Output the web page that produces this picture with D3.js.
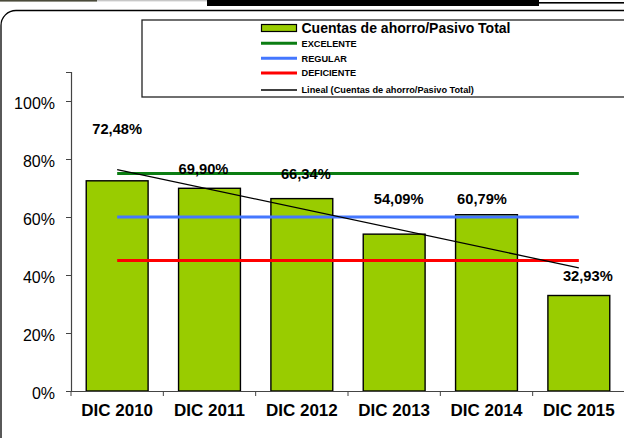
<!DOCTYPE html>
<html>
<head>
<meta charset="utf-8">
<script src="https://cdn.jsdelivr.net/npm/d3@7"></script>
<style>
  body { margin: 0; background: #fff; }
  svg { display: block; font-family: "Liberation Sans", Arial, sans-serif; }
</style>
</head>
<body>
<script>
// data
var categories = ["DIC 2010", "DIC 2011", "DIC 2012", "DIC 2013", "DIC 2014", "DIC 2015"];
var values = [72.48, 69.90, 66.34, 54.09, 60.79, 32.93];
var excelente = 75, regular = 60, deficiente = 45;
var yTicks = [0, 20, 40, 60, 80, 100];
var seriesName = "Cuentas de ahorro/Pasivo Total";
var legendNames = ["EXCELENTE", "REGULAR", "DEFICIENTE", "Lineal (Cuentas de ahorro/Pasivo Total)"];

// label nudges (layout only), as in the original sheet
var labelDx = [0, -6, 4, 4.5, -4.5, 9];
var labelDy = [47, 14.3, 19.6, 30, 10.7, 14.5];

var width = 624, height = 438;
var colors = { bar: "#99cc00", green: "#0b7d12", blue: "#4477ff", red: "#ff0000" };

var svg = d3.select("body").append("svg")
    .attr("width", width)
    .attr("height", height);

// top strip bits seen in the capture
svg.append("rect").attr("x", 0).attr("y", 0).attr("width", 97).attr("height", 1.6).attr("fill", "#4b4b3a");
svg.append("rect").attr("x", 97).attr("y", 0).attr("width", 132).attr("height", 1.4).attr("fill", "#c8c8c8");
svg.append("rect").attr("x", 207).attr("y", 0).attr("width", 332).attr("height", 6).attr("fill", "#000");
svg.append("rect").attr("x", 539).attr("y", 2).attr("width", 85).attr("height", 1.6).attr("fill", "#000");

// outer rounded frame
svg.append("rect")
    .attr("x", 1).attr("y", 10.5)
    .attr("width", 640).attr("height", 460)
    .attr("rx", 15).attr("ry", 15)
    .attr("fill", "none").attr("stroke", "#000").attr("stroke-width", 1.3);

var x = d3.scaleBand()
    .domain(categories)
    .range([71, 625])
    .paddingInner(0.33)
    .paddingOuter(0.165);

var y = d3.scaleLinear()
    .domain([0, 110])
    .range([391, 72]);

var cx = function (i) { return x(categories[i]) + x.bandwidth() / 2; };

// y axis
var yAxis = svg.append("g")
    .attr("transform", "translate(71,0)")
    .call(d3.axisLeft(y).tickValues(yTicks).tickSize(5).tickPadding(11)
        .tickFormat(function (d) { return d + "%"; }));
yAxis.select(".domain").attr("stroke", "#444").attr("stroke-width", 1.2);
yAxis.selectAll(".tick line").attr("stroke", "#444");
yAxis.selectAll("text")
    .attr("font-size", 16)
    .attr("font-family", "Liberation Sans, Arial, sans-serif")
    .attr("fill", "#000")
    .attr("dy", "0.47em");

// bars
svg.selectAll(".bar")
    .data(values)
    .enter().append("rect")
    .attr("class", "bar")
    .attr("x", function (d, i) { return x(categories[i]); })
    .attr("y", function (d) { return y(d); })
    .attr("width", x.bandwidth())
    .attr("height", function (d) { return y(0) - y(d); })
    .attr("fill", colors.bar)
    .attr("stroke", "#000")
    .attr("stroke-width", 1.4);

// x axis
var xAxis = svg.append("g")
    .attr("transform", "translate(0," + y(0) + ")")
    .call(d3.axisBottom(x).tickSize(0).tickPadding(14));
xAxis.select(".domain").attr("stroke", "#444").attr("stroke-width", 1.2);
xAxis.selectAll("text")
    .attr("font-size", 17)
    .attr("font-weight", "bold")
    .attr("font-family", "Liberation Sans, Arial, sans-serif")
    .attr("fill", "#000")
    .attr("dy", "0.62em");
xAxis.selectAll(".bound")
    .data(categories)
    .enter().append("line")
    .attr("class", "bound")
    .attr("x1", function (d) { return x(d) - x.step() * x.paddingOuter(); })
    .attr("x2", function (d) { return x(d) - x.step() * x.paddingOuter(); })
    .attr("y1", 0).attr("y2", 5)
    .attr("stroke", "#444");

// reference lines
var refs = [
    { v: excelente, c: colors.green },
    { v: regular, c: colors.blue },
    { v: deficiente, c: colors.red }
];
svg.selectAll(".ref")
    .data(refs)
    .enter().append("line")
    .attr("class", "ref")
    .attr("x1", cx(0)).attr("x2", cx(values.length - 1))
    .attr("y1", function (d) { return y(d.v); })
    .attr("y2", function (d) { return y(d.v); })
    .attr("stroke", function (d) { return d.c; })
    .attr("stroke-width", 3.2);

// linear trend (least squares over the series)
var n = values.length;
var mx = d3.mean(values, function (d, i) { return i + 1; });
var my = d3.mean(values);
var sxy = d3.sum(values, function (d, i) { return (i + 1 - mx) * (d - my); });
var sxx = d3.sum(values, function (d, i) { return (i + 1 - mx) * (i + 1 - mx); });
var slope = sxy / sxx;
var trend = function (i) { return my + slope * (i + 1 - mx); };
svg.append("line")
    .attr("x1", cx(0)).attr("y1", y(trend(0)))
    .attr("x2", cx(n - 1)).attr("y2", y(trend(n - 1)))
    .attr("stroke", "#000")
    .attr("stroke-width", 1.3);

// value labels
svg.selectAll(".lbl")
    .data(values)
    .enter().append("text")
    .attr("class", "lbl")
    .attr("x", function (d, i) { return cx(i) + labelDx[i]; })
    .attr("y", function (d, i) { return y(d) - labelDy[i]; })
    .attr("text-anchor", "middle")
    .attr("font-size", 14.7)
    .attr("font-weight", "bold")
    .text(function (d) { return d.toFixed(2).replace(".", ",") + "%"; });

// legend
var lg = svg.append("g");
lg.append("rect")
    .attr("x", 142).attr("y", 20)
    .attr("width", 520).attr("height", 77)
    .attr("fill", "#fff")
    .attr("stroke", "#222").attr("stroke-width", 1.3);

lg.append("rect")
    .attr("x", 261.5).attr("y", 24.5)
    .attr("width", 35).attr("height", 7)
    .attr("fill", colors.bar)
    .attr("stroke", "#000").attr("stroke-width", 1.2);
lg.append("text")
    .attr("x", 301.5).attr("y", 32.5)
    .attr("font-size", 14).attr("font-weight", "bold")
    .text(seriesName);

var legendRows = [
    { name: legendNames[0], c: colors.green, w: 3, y: 43.3 },
    { name: legendNames[1], c: colors.blue, w: 3, y: 58.3 },
    { name: legendNames[2], c: colors.red, w: 3, y: 73 },
    { name: legendNames[3], c: "#000", w: 1.3, y: 90 }
];
var rows = lg.selectAll(".lrow")
    .data(legendRows)
    .enter().append("g")
    .attr("class", "lrow");
rows.append("line")
    .attr("x1", 261).attr("x2", 297)
    .attr("y1", function (d) { return d.y; })
    .attr("y2", function (d) { return d.y; })
    .attr("stroke", function (d) { return d.c; })
    .attr("stroke-width", function (d) { return d.w; });
rows.append("text")
    .attr("x", 301.5)
    .attr("y", function (d) { return d.y + 3.2; })
    .attr("font-size", 9.2)
    .attr("font-weight", "bold")
    .text(function (d) { return d.name; });
</script>
</body>
</html>
